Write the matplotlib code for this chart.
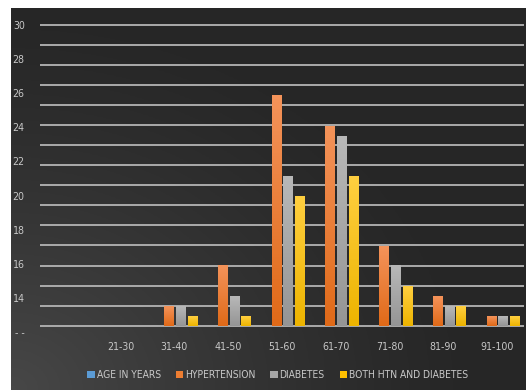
import numpy as np
import matplotlib
matplotlib.use("Agg")
import matplotlib.pyplot as plt
from matplotlib.colors import LinearSegmentedColormap
from matplotlib.font_manager import FontProperties

categories = ["21-30", "31-40", "41-50", "51-60", "61-70", "71-80", "81-90", "91-100"]
series_names = ["AGE IN YEARS", "HYPERTENSION", "DIABETES", "BOTH HTN AND DIABETES"]
age_in_years = [0, 0, 0, 0, 0, 0, 0, 0]
hypertension = [0, 13.5, 15.9, 25.9, 24.1, 17.05, 14.1, 12.95]
diabetes = [0, 13.5, 14.1, 21.15, 23.5, 15.9, 13.5, 12.95]
both_htn_diabetes = [0, 12.95, 12.95, 20.0, 21.15, 14.7, 13.5, 12.95]
ytick_values = [12, 14, 16, 18, 20, 22, 24, 26, 28, 30]
ytick_labels = ["- -", "14", "16", "18", "20", "22", "24", "26", "28", "30"]

colors = ["#5B9BD5", "#ED7D31", "#A5A5A5", "#FFC000"]
colors_top = ["#7FB2E0", "#F4935A", "#B8B8B8", "#FFCF40"]
colors_bot = ["#4A8AC8", "#E06A18", "#959595", "#EDB400"]

W, H = 526, 390
fig = plt.figure(figsize=(W / 100, H / 100), dpi=100, facecolor="white")

# background gradient panel
bg = fig.add_axes([11 / W, 0, 1 - 11 / W, 1 - 8 / H])
bg.set_axis_off()
ny, nx = 200, 260
yy, xx = np.mgrid[0:1:ny * 1j, 0:1:nx * 1j]
d = np.sqrt((xx * 1.1) ** 2 + ((1 - yy) * 1.0) ** 2)
inten = 0.150 + 0.13 * np.clip(1 - d / 1.0, 0, 1) ** 1.3
rgb = np.dstack([inten, inten, inten])
bg.imshow(rgb, extent=[0, 1, 0, 1], aspect="auto", origin="upper")
bg.set_xlim(0, 1)
bg.set_ylim(0, 1)

txt_color = "#c8c8c8"
tick_fp = FontProperties(family="DejaVu Sans", stretch="condensed", size=7.6)
leg_fp = FontProperties(family="DejaVu Sans", stretch="condensed", size=7.4)

ax_bottom_px, ax_top_px = 332, 24.1
ax = fig.add_axes([40 / W, 1 - ax_bottom_px / H, (524 - 40) / W, (ax_bottom_px - ax_top_px) / H])
ax.set_facecolor("none")
ymin, ymax = 12, 30.05
n = len(categories)
baseline = 12.37

# grid lines
for gy in np.linspace(baseline, 30.0, 16):
    ax.axhline(gy, color="#b4b4b4", lw=1.3, zorder=1)

x = np.arange(n)
step = 0.218
width = 0.168
all_series = [age_in_years, hypertension, diabetes, both_htn_diabetes]
for i, (vals, name) in enumerate(zip(all_series, series_names)):
    heights = [max(v - baseline, 0) for v in vals]
    bars = ax.bar(x + (i - 1.5) * step, heights, width=width, bottom=baseline,
                  color=colors[i], label=name, zorder=3, edgecolor="none")
    cmap = LinearSegmentedColormap.from_list("g%d" % i, [colors_bot[i], colors_top[i]])
    for b in bars:
        if b.get_height() <= 0:
            continue
        x0, y0 = b.get_x(), b.get_y()
        im = ax.imshow(np.linspace(0, 1, 64).reshape(-1, 1), cmap=cmap, origin="lower",
                       extent=[x0, x0 + b.get_width(), y0, y0 + b.get_height()],
                       aspect="auto", zorder=4)
        im.set_clip_path(b)
ax.set_xlim(-1.5, n - 0.5)
ax.set_ylim(ymin, ymax)

ax.set_xticks(x)
ax.set_xticklabels(categories, color=txt_color)
ax.set_yticks(ytick_values)
ax.set_yticklabels(ytick_labels, color=txt_color)
for lab in ax.get_xticklabels() + ax.get_yticklabels():
    lab.set_fontproperties(tick_fp)
ax.tick_params(axis="x", length=0, pad=7)
ax.tick_params(axis="y", length=0, pad=11)
for s in ax.spines.values():
    s.set_visible(False)

handles, labels = ax.get_legend_handles_labels()
leg = fig.legend(handles, labels, loc="center", bbox_to_anchor=(0.528, 1 - 375 / H), ncol=4,
                 frameon=False, handlelength=0.75, handleheight=0.75, handletextpad=0.15,
                 columnspacing=1.45, prop=leg_fp)
for t in leg.get_texts():
    t.set_color(txt_color)

fig.savefig("out.png", dpi=100, facecolor="white")
